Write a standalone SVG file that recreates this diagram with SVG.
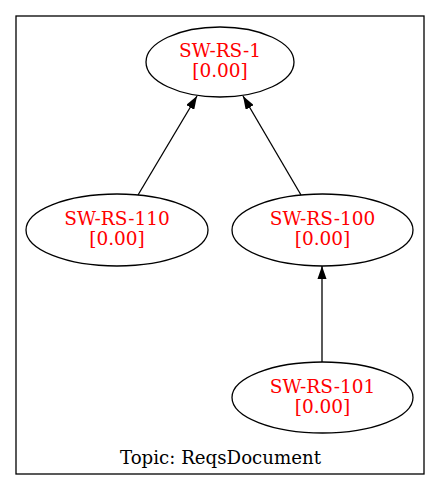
<svg xmlns="http://www.w3.org/2000/svg" width="440" height="491" viewBox="0 0 440 491">
<style>
.n ellipse{fill:none;stroke:#000;stroke-width:1.3}
.n text{font-family:"DejaVu Serif",serif;font-size:18.5px;fill:#ff0000;text-anchor:middle}
.e{stroke:#000;stroke-width:1.3;fill:none}
.lbl{font-family:"DejaVu Serif",serif;font-size:18.2px;fill:#000;text-anchor:middle}
</style>
<defs>
<marker id="ah" viewBox="0 0 13.3 9.3" refX="13.3" refY="4.65" markerWidth="13.3" markerHeight="9.3" markerUnits="userSpaceOnUse" orient="auto">
<path d="M0,0 L13.3,4.65 L0,9.3 Z" fill="#000"/>
</marker>
</defs>
<rect width="440" height="491" fill="#fff"/>
<g id="cluster">
<rect x="16" y="16" width="408" height="458" fill="none" stroke="#000" stroke-width="1.3"/>
<text class="lbl" x="220.5" y="464">Topic: ReqsDocument</text>
</g>
<g id="edges">
<line class="e" x1="138" y1="195" x2="197" y2="96" marker-end="url(#ah)"/>
<line class="e" x1="301" y1="195" x2="243" y2="96" marker-end="url(#ah)"/>
<line class="e" x1="322" y1="362" x2="322" y2="266" marker-end="url(#ah)"/>
</g>
<g id="SW-RS-1" class="n">
<ellipse cx="220" cy="62" rx="74" ry="35"/>
<text x="220" y="57">SW-RS-1</text>
<text x="220" y="76.5">[0.00]</text>
</g>
<g id="SW-RS-110" class="n">
<ellipse cx="117" cy="230" rx="91" ry="36"/>
<text x="117" y="225.3">SW-RS-110</text>
<text x="117" y="245">[0.00]</text>
</g>
<g id="SW-RS-100" class="n">
<ellipse cx="322.5" cy="230" rx="90.5" ry="36"/>
<text x="322.5" y="225.3">SW-RS-100</text>
<text x="322.5" y="245">[0.00]</text>
</g>
<g id="SW-RS-101" class="n">
<ellipse cx="322.5" cy="397.5" rx="90.5" ry="35.5"/>
<text x="322.5" y="392.8">SW-RS-101</text>
<text x="322.5" y="412.5">[0.00]</text>
</g>
</svg>
